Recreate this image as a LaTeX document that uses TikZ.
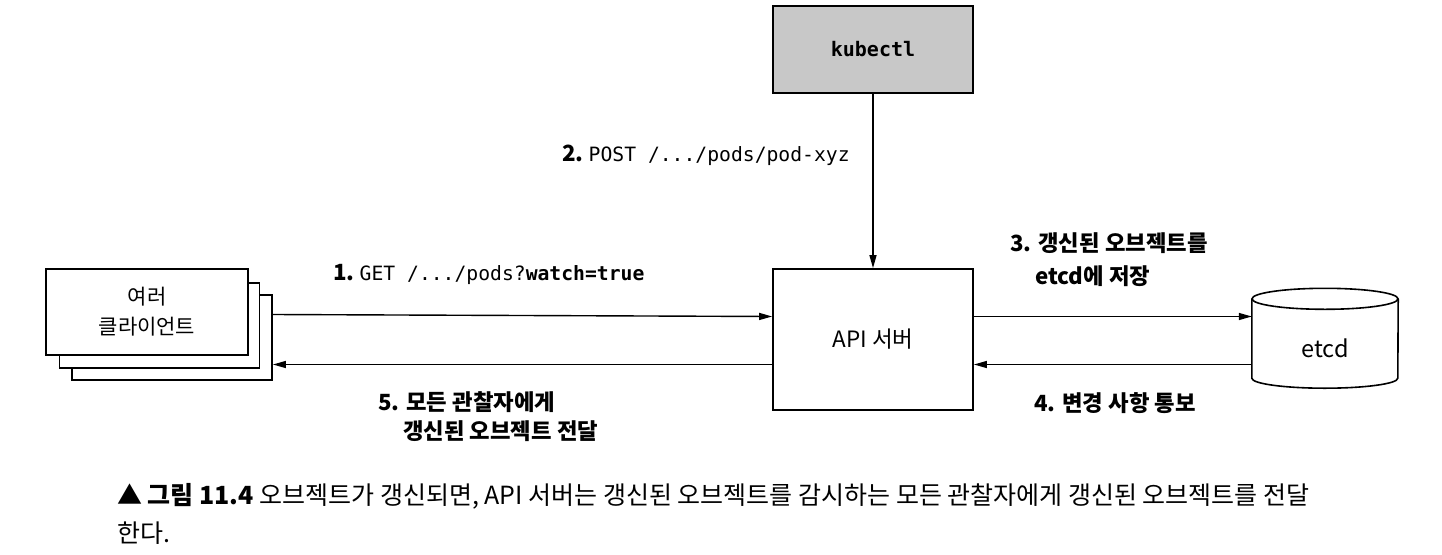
\documentclass[tikz,border=0pt]{standalone}
\usepackage{fontspec}
\setmainfont{Noto Sans CJK KR}
\newfontfamily\kr{Noto Sans CJK KR}
\newfontfamily\mono{DejaVu Sans Mono}
\usetikzlibrary{arrows.meta,calc}
\definecolor{kgray}{HTML}{C8C8C8}
\tikzset{
  box/.style={draw, line width=1.8pt, fill=white, inner sep=0pt, align=center, font=\kr\fontsize{21}{30}\selectfont},
  arr/.style={line width=1.4pt, -{Triangle[length=13pt,width=7pt]}},
  lbl/.style={anchor=west, inner sep=0pt, align=left, font=\kr\bfseries\fontsize{22.3}{30}\selectfont},
  captext/.style={anchor=west, inner sep=0pt, font=\kr\fontsize{25}{30}\selectfont}
}
\begin{document}
\begin{tikzpicture}[x=1pt,y=-1pt]
\useasboundingbox (0,0) rectangle (1442,554);
% clients stack
\node[box, minimum width=200pt, minimum height=85pt] (c3) at (172,337.5) {};
\node[box, minimum width=200pt, minimum height=85pt] (c2) at (159.5,325.5) {};
\node[box, minimum width=202pt, minimum height=86pt] (c1) at (147,312) {여러\\클라이언트};
% api server
\node[box, minimum width=200pt, minimum height=141pt, font=\kr\fontsize{22.5}{30}\selectfont] (api) at (873,339.5) {API 서버};
% kubectl
\node[box, fill=kgray, minimum width=200pt, minimum height=87pt, font=\mono\bfseries\fontsize{20}{24}\selectfont] (kc) at (873,49.5) {kubectl};
% etcd cylinder
\node[minimum width=146pt, minimum height=79pt, inner sep=0pt] (etcd) at (1325,338.5) {};
\draw[line width=1.6pt, fill=white] (etcd.north west) -- (etcd.south west)
  arc[start angle=180, end angle=360, x radius=73pt, y radius=10pt] -- (etcd.north east);
\draw[line width=1.6pt] (etcd.north) ellipse [x radius=73pt, y radius=10.5pt];
\node[font=\kr\fontsize{23.5}{26}\selectfont, inner sep=0pt] (etcdt) at (1325,348) {etcd};
% connectors
\draw[arr] (kc.south) -- (api.north);
\draw[arr] ([yshift=23pt]c3.east) -- ([yshift=23pt]api.west);
\draw[arr] ([yshift=-25pt]api.west) -- ([yshift=-25pt]api.west -| c3.east);
\draw[arr] ([yshift=23pt]api.east) -- ([yshift=23pt]api.east -| etcd.west);
\draw[arr] ([yshift=-25pt]api.east -| etcd.west) -- ([yshift=-25pt]api.east);
% labels
\node[lbl] (l1) at (333,274) {1.\ {\mono\mdseries\fontsize{19.7}{24}\selectfont GET /.../pods?\bfseries watch=true}};
\node[lbl] (l2) at (562,155) {2.\ {\mono\mdseries\fontsize{19.7}{24}\selectfont POST /.../pods/pod-xyz}};
\node[lbl] (l3a) at (1010,243) {3. 갱신된 오브젝트를};
\node[lbl] (l3b) at (1035,276) {etcd에 저장};
\node[lbl] (l4) at (1034,403) {4. 변경 사항 통보};
\node[lbl] (l5a) at (378,402) {5. 모든 관찰자에게};
\node[lbl] (l5b) at (403,431) {갱신된 오브젝트 전달};
% caption
\node[captext] (cap1) at (117,496) {▲ {\bfseries 그림 11.4} 오브젝트가 갱신되면, API 서버는 갱신된 오브젝트를 감시하는 모든 관찰자에게 갱신된 오브젝트를 전달};
\node[captext] (cap2) at (117,533) {한다.};
\end{tikzpicture}
\end{document}
